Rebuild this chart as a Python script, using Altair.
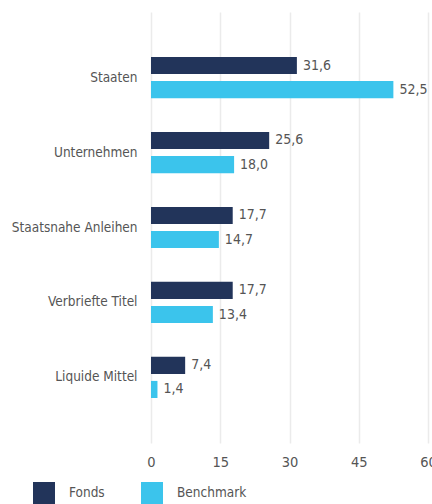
import altair as alt
import pandas as pd

categories = ["Staaten", "Unternehmen", "Staatsnahe Anleihen", "Verbriefte Titel", "Liquide Mittel"]
series = ["Fonds", "Benchmark"]
fonds = [31.6, 25.6, 17.7, 17.7, 7.4]
benchmark = [52.5, 18.0, 14.7, 13.4, 1.4]
x_ticks = [0, 15, 30, 45, 60]
colors = ["#22345a", "#3bc4ec"]

rows = []
for c, f, b in zip(categories, fonds, benchmark):
    for s, v in (("Fonds", f), ("Benchmark", b)):
        rows.append({"Kategorie": c, "Serie": s, "Wert": v,
                     "Label": f"{v:.1f}".replace(".", ",")})
df = pd.DataFrame(rows)

FONT = "'DejaVu Sans Condensed', 'Roboto Condensed', 'Liberation Sans Narrow', Roboto, sans-serif"
GRAY = "#555555"

y_enc = alt.Y("Kategorie:N", sort=categories, title=None,
              scale=alt.Scale(paddingInner=0.45, paddingOuter=0.6),
              axis=alt.Axis(ticks=False, domain=False, labelPadding=14,
                            labelFontSize=13.5, labelColor=GRAY, labelFont=FONT,
                            labelFontWeight=300))
yoff = alt.YOffset("Serie:N", sort=series,
                   scale=alt.Scale(paddingInner=0.29, paddingOuter=0))
x_enc = alt.X("Wert:Q", title=None,
              scale=alt.Scale(domain=[0, 60], nice=False),
              axis=alt.Axis(values=x_ticks, ticks=False, domain=False, grid=True,
                            gridColor="#ebebeb", gridWidth=1.5,
                            labelPadding=12, labelFontSize=14.5, labelColor=GRAY,
                            labelFont=FONT, labelFontWeight=300, labelFlush=False))

color = alt.Color("Serie:N", sort=series,
                  scale=alt.Scale(domain=series, range=colors),
                  legend=alt.Legend(orient="none", legendX=-118, legendY=470,
                                    direction="horizontal", title=None,
                                    symbolType="square", symbolSize=484,
                                    symbolStrokeWidth=0, labelFontSize=13.5,
                                    labelColor=GRAY, labelFont=FONT,
                                    labelFontWeight=300,
                                    labelOffset=14, columnPadding=36))

bars = alt.Chart(df).mark_bar().encode(y=y_enc, yOffset=yoff, x=x_enc, color=color)
labels = alt.Chart(df).mark_text(align="left", baseline="middle", dx=6,
                                 fontSize=14, font=FONT, fontWeight=300,
                                 color=GRAY).encode(
    y=alt.Y("Kategorie:N", sort=categories), yOffset=yoff,
    x="Wert:Q", text="Label:N")

chart = (bars + labels).properties(
    width=277, height=431,
    autosize=alt.AutoSizeParams(type="none"),
    padding={"left": 151, "top": 12, "right": 4, "bottom": 61},
).configure_view(stroke=None)

chart.save("out.html", embed_options={"renderer": "svg", "actions": False})
